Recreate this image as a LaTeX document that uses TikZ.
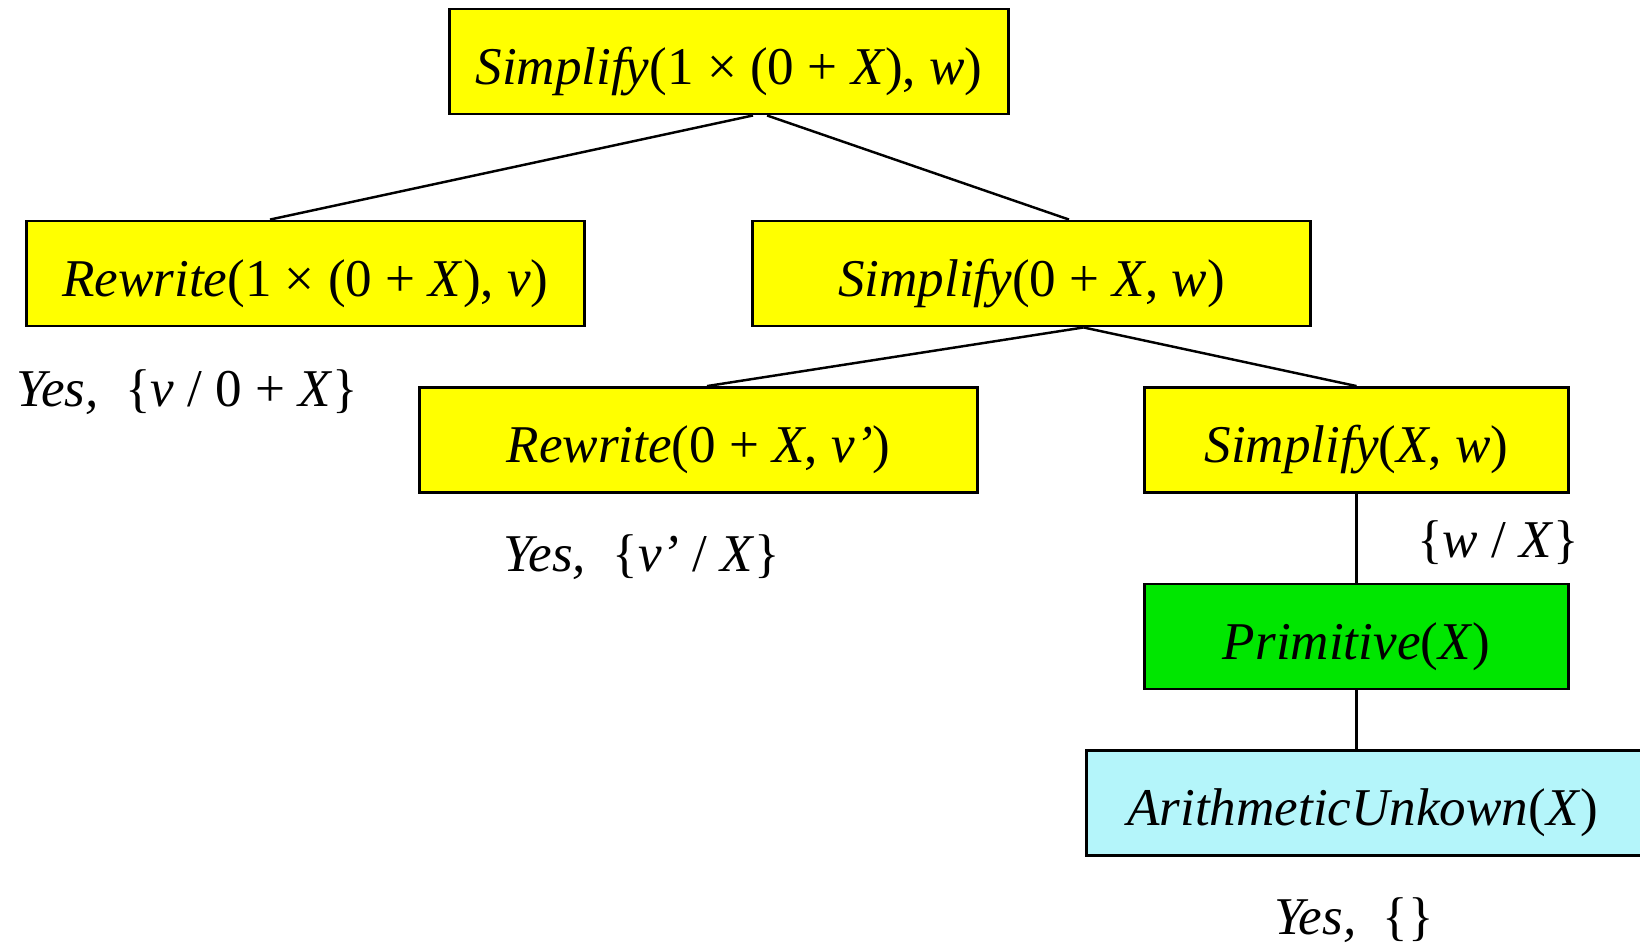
\documentclass[tikz,border=0pt]{standalone}
\usepackage{fontspec}
\setmainfont{Liberation Serif}
\usetikzlibrary{positioning}
\definecolor{goalyellow}{RGB}{255,255,0}
\definecolor{primgreen}{RGB}{0,230,0}
\definecolor{unkcyan}{RGB}{180,245,250}

\begin{document}
\begin{tikzpicture}[x=0.01cm,y=-0.01cm,
  goal/.style={draw,line width=0.8pt,fill=goalyellow,minimum width=5.58cm,minimum height=1.05cm,inner sep=0pt,text height=1.4em,text depth=0.12em,font=\fontsize{15.1}{18}\selectfont},
  ans/.style={inner sep=0pt,font=\fontsize{15.1}{18}\selectfont},
  link/.style={line width=0.7pt}]
\useasboundingbox (0,0) rectangle (1640,944);
% goal tree
\node[goal] (top) at (729,61.5) {\textit{Simplify}(1 × (0 + \textit{X}), \textit{w})};
\node[goal] (rw1) at (305.5,273.5) {\textit{Rewrite}(1 × (0 + \textit{X}), \textit{v})};
\node[goal] (simp0x) at (1031.5,273.5) {\textit{Simplify}(0 + \textit{X}, \textit{w})};
\node[goal] (rw2) at (698.5,440) {\textit{Rewrite}(0 + \textit{X}, \textit{v’})};
\node[goal,minimum width=4.23cm] (simpx) at (1356.5,440) {\textit{Simplify}(\textit{X}, \textit{w})};
\node[goal,minimum width=4.23cm,fill=primgreen] (prim) at (1356.5,636.5) {\textit{Primitive}(\textit{X})};
\node[goal,minimum width=6cm,fill=unkcyan,anchor=west] (arith) at (1085,803) {\textit{ArithmeticUnkown}(\textit{X})\hspace*{0.48cm}};
% answers
\node[ans,anchor=west] (yes1) at (16,392) {\textit{Yes,}\ \ \{\textit{v} / 0 + \textit{X}\}};
\node[ans] (yes2) at (642,557) {\textit{Yes,}\ \ \{\textit{v’} / \textit{X}\}};
\node[ans] (subw) at (1498,543) {\{\textit{w} / \textit{X}\}};
\node[ans] (yes3) at (1354,920) {\textit{Yes,}\ \ \{\}};
% links
\draw[link] ([xshift=0.24cm]top.south) -- ([xshift=-0.355cm]rw1.north);
\draw[link] ([xshift=0.38cm]top.south) -- ([xshift=0.375cm]simp0x.north);
\draw[link] ([xshift=0.52cm]simp0x.south) -- ([xshift=0.085cm]rw2.north);
\draw[link] ([xshift=0.52cm]simp0x.south) -- (simpx.north);
\draw[link] (simpx.south) -- (prim.north);
\draw[link] (prim.south) -- (prim.south |- arith.north);
\end{tikzpicture}
\end{document}
